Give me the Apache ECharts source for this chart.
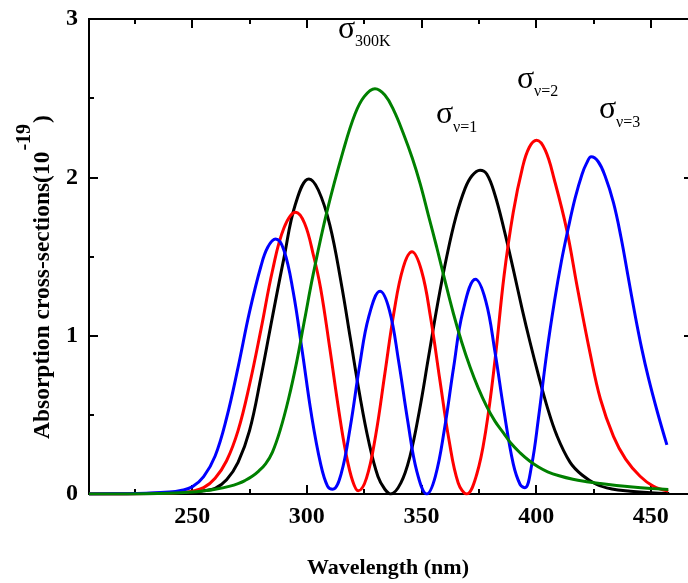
<!DOCTYPE html>
<html><head><meta charset="utf-8">
<script src="https://cdn.jsdelivr.net/npm/echarts@6/dist/echarts.min.js"></script>
<style>html,body{margin:0;padding:0;background:#fff}#c{width:688px;height:583px}</style>
</head><body><div id="c"></div>
<script>
// ---- data (wavelength nm, cross-section in 1e-19) ----
const xMajorTicks = [250, 300, 350, 400, 450];
const xMinorTicks = [225, 275, 325, 375, 425];
const seriesNames = ['σν=1', 'σν=2', 'σν=3', 'σ300K'];

const sigmaV1 = [[205,0],[230,0.001],[240,0.004],[250,0.01],[255,0.02],[260,0.036],[265,0.09],[270,0.20],[275,0.40],[280,0.74],[285,1.12],[290,1.49],[295,1.83],[300.9,1.99],[305,1.92],[310,1.70],[315,1.33],[319,0.98],[323,0.63],[327,0.33],[331,0.11],[334,0.03],[336.6,0.0],[341,0.07],[345,0.24],[349,0.52],[353,0.86],[357,1.20],[361,1.50],[365,1.75],[369,1.93],[372,2.01],[375.5,2.045],[378.5,2.02],[382,1.89],[386,1.67],[390,1.42],[394,1.16],[397.3,0.96],[401,0.75],[404.6,0.56],[409,0.37],[414.8,0.20],[420,0.12],[426.4,0.06],[433,0.032],[441,0.018],[450,0.008],[458,0.003]];

const sigmaV2 = [[205,0],[225,0.001],[235,0.004],[245,0.01],[250,0.018],[255,0.04],[260,0.10],[265,0.21],[270,0.40],[275,0.69],[280,1.04],[285,1.41],[290,1.68],[295.1,1.78],[299,1.71],[303,1.50],[306,1.30],[310,0.92],[314,0.52],[317,0.26],[320,0.08],[322.4,0.02],[326,0.10],[330,0.37],[334,0.76],[338,1.15],[342,1.43],[345.8,1.53],[350,1.41],[354,1.11],[358,0.72],[362,0.34],[366,0.07],[369.7,0.0],[374,0.12],[378,0.40],[382,0.84],[386,1.38],[390,1.78],[394,2.06],[397,2.19],[400.2,2.234],[404,2.17],[408,1.98],[413.3,1.67],[418,1.30],[423.5,0.89],[428,0.60],[433.7,0.364],[439,0.22],[445.3,0.112],[451,0.05],[457.6,0.018]];

const sigmaV3 = [[205,0],[220,0.002],[230,0.005],[240,0.012],[245,0.022],[250,0.045],[255,0.11],[260,0.24],[265,0.48],[270,0.80],[275,1.15],[280,1.44],[283,1.56],[286.4,1.61],[290,1.54],[294,1.28],[298,0.90],[302,0.50],[306,0.19],[309,0.05],[311.3,0.03],[315,0.13],[319,0.43],[323,0.81],[327,1.12],[331.9,1.28],[336,1.16],[340,0.84],[344,0.46],[348,0.14],[352.3,0.0],[356,0.11],[360,0.41],[364,0.80],[368,1.15],[373.5,1.356],[378,1.22],[382,0.90],[386,0.52],[390,0.19],[393,0.06],[395.1,0.04],[398,0.18],[401,0.48],[404.6,0.89],[408,1.22],[411,1.47],[414,1.68],[417,1.87],[420,2.02],[422,2.09],[424,2.13],[427,2.10],[430,2.01],[433.7,1.84],[437,1.62],[440,1.38],[443,1.14],[446,0.92],[449,0.73],[453,0.51],[457,0.31]];

const sigma300K = [[205,0],[230,0.001],[240,0.004],[250,0.012],[255,0.02],[260,0.03],[266.5,0.05],[270,0.066],[273,0.085],[276,0.11],[279,0.145],[282,0.19],[285,0.265],[288.3,0.40],[292,0.60],[295.5,0.83],[299,1.10],[302.8,1.39],[308.7,1.78],[315.9,2.17],[321,2.40],[325,2.51],[329.7,2.56],[334,2.52],[338,2.42],[342,2.28],[346,2.12],[349.4,1.96],[353,1.76],[356.6,1.56],[360,1.36],[363.9,1.14],[367.5,0.96],[371.2,0.80],[374.7,0.67],[378.4,0.553],[382,0.46],[385.7,0.386],[389,0.32],[393,0.26],[397,0.21],[401,0.17],[405,0.14],[410,0.115],[416,0.093],[422,0.078],[428,0.066],[435,0.054],[442,0.044],[450,0.035],[457.6,0.028]];

// ---- chart ----
const serif = "'Liberation Serif','Times New Roman',serif";
const chart = echarts.init(document.getElementById('c'), null, {renderer: 'canvas'});
const X_MIN = 205, X_MAX = 466.2;

function xAx(pos, vals, len, labels) {
  return {
    type: 'value', min: X_MIN, max: X_MAX, position: pos,
    axisLine: {show: true, onZero: false, lineStyle: {color: '#000', width: 2}},
    axisTick: {show: true, inside: true, length: len, customValues: vals, lineStyle: {color: '#000', width: 2}},
    axisLabel: {show: labels, customValues: vals, color: '#000', fontFamily: serif, fontWeight: 'bold', fontSize: 24, margin: 11},
    splitLine: {show: false}
  };
}
function yAx(pos, labels) {
  const right = pos === 'right';
  return {
    type: 'value', min: 0, max: 3, interval: 1, position: pos,
    axisLine: {show: !right, onZero: false, lineStyle: {color: '#000', width: 2}},
    axisTick: {show: true, inside: true, length: right ? 4 : 9, lineStyle: {color: '#000', width: 2}},
    minorTick: {show: !right, splitNumber: 2, length: 5, lineStyle: {color: '#000', width: 2}},
    axisLabel: {show: labels, color: '#000', fontFamily: serif, fontWeight: 'bold', fontSize: 24, margin: 11},
    splitLine: {show: false}, minorSplitLine: {show: false}
  };
}

function line(name, data, color) {
  return {name, type: 'line', data, showSymbol: false, smooth: 0.4, xAxisIndex: 0, yAxisIndex: 0,
    lineStyle: {color, width: 3}, itemStyle: {color}, animation: false};
}

// y-axis title pieces measured for placement
const ctx = document.createElement('canvas').getContext('2d');
const titleFont = 'bold 23.5px ' + serif;
const supFont = 'bold 20px ' + serif;
ctx.font = titleFont;
const mainTitle = 'Absorption cross-sections(10';
const wMain = ctx.measureText(mainTitle).width;
ctx.font = supFont;
const wSup = ctx.measureText('-19').width;

function sigmaLabel(x, yMid, sub, ySub) {
  return [
    {type: 'text', left: x, top: yMid - 17, style: {text: 'σ', font: '32px ' + serif, fill: '#000'}},
    {type: 'text', left: x + 17, top: ySub - 8, style: {text: sub, font: '16px ' + serif, fill: '#000'}}
  ];
}

chart.setOption({
  animation: false,
  backgroundColor: '#fff',
  grid: {left: 89, top: 19, right: 0, bottom: 89, containLabel: false},
  xAxis: [xAx('bottom', xMajorTicks, 9, true), xAx('bottom', xMinorTicks, 5, false),
          xAx('top', xMajorTicks, 9, false), xAx('top', xMinorTicks, 5, false)],
  yAxis: [yAx('left', true), yAx('right', false)],
  series: [line(seriesNames[0], sigmaV1, '#000000'), line(seriesNames[1], sigmaV2, '#ff0000'),
           line(seriesNames[2], sigmaV3, '#0000ff'), line(seriesNames[3], sigma300K, '#008000')],
  graphic: [
    {type: 'text', x: 388, y: 568, style: {text: 'Wavelength (nm)', font: 'bold 22px ' + serif, fill: '#000', textAlign: 'center', textVerticalAlign: 'middle'}},
    {type: 'group', x: 55, y: 439, rotation: Math.PI / 2, children: [
      {type: 'text', x: 0, y: 0, style: {text: mainTitle, font: titleFont, fill: '#000', textAlign: 'left', textVerticalAlign: 'bottom'}},
      {type: 'text', x: wMain + 1, y: -20, style: {text: '-19', font: supFont, fill: '#000', textAlign: 'left', textVerticalAlign: 'bottom'}},
      {type: 'text', x: wMain + wSup + 2, y: 0, style: {text: ')', font: titleFont, fill: '#000', textAlign: 'left', textVerticalAlign: 'bottom'}}
    ]},
    ...sigmaLabel(338, 31, '300K', 42),
    ...sigmaLabel(436, 116, 'ν=1', 128),
    ...sigmaLabel(517, 81, 'ν=2', 92),
    ...sigmaLabel(599, 111, 'ν=3', 123)
  ]
});
</script></body></html>
